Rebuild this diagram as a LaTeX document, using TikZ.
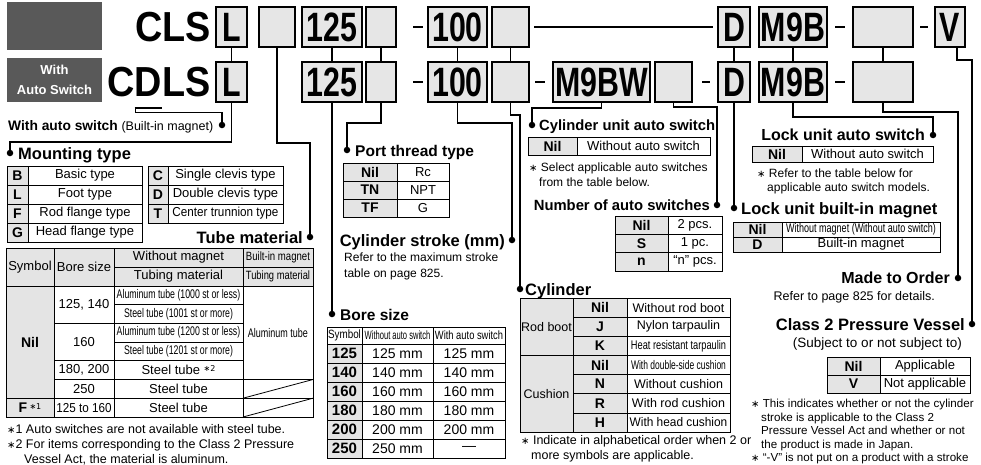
\documentclass[tikz,border=0pt]{standalone}
\usepackage{fontspec}
\usepackage{graphicx}
\setmainfont{Liberation Sans}
\newfontfamily\djv{DejaVu Sans}
\usetikzlibrary{calc}
\definecolor{tabgray}{HTML}{E4E4E4}
\definecolor{boxgray}{HTML}{E6E6E6}
\definecolor{hdgray}{HTML}{595959}
\newcommand\fs[1]{\fontsize{#1}{#1}\selectfont}
\newcommand\cnd[2]{\scalebox{#1}[1]{#2}}
\newcommand\astk{{\djv\fs{10}∗}}
\newcommand\supast[1]{\raisebox{3pt}{\djv\fs{8}∗#1}}
\newcommand\tcel[7][]{\node[tcell,#1,minimum width={(#5-#3)*1pt},minimum height={(#6-#4)*1pt}] (#2) at ({(#3+#5)/2},{(#4+#6)/2}) {#7};}
\newcommand\cbox[5]{\node[codebox,minimum width={(#3-#2)*1pt}] (#1) at ({(#2+#3)/2},#4) {#5};}
\begin{document}
\begin{tikzpicture}[x=1pt,y=-1pt,
  tcell/.style={draw, line width=0.8pt, inner sep=0pt, outer sep=0pt, font=\fs{13}, align=center},
  gc/.style={fill=tabgray},
  sym/.style={fill=tabgray, font=\fs{14}\bfseries},
  codebox/.style={draw, line width=1.6pt, fill=boxgray, inner sep=0pt, outer sep=0pt, minimum height=40pt, font=\fs{41}\bfseries},
  bigt/.style={inner sep=0pt, font=\fs{42}\bfseries},
  hdbox/.style={fill=hdgray, minimum width=95pt, inner sep=0pt},
  conn/.style={line width=1.4pt},
  dashbar/.style={line width=2.2pt},
  bdot/.style={fill, circle, inner sep=0pt, minimum size=6.5pt},
  head/.style={inner sep=0pt, font=\fs{16.5}\bfseries},
  note/.style={inner sep=0pt, font=\fs{12}},
  fnote/.style={inner sep=0pt, font=\fs{12.5}}
]
\useasboundingbox (0,0) rectangle (981,464);
\fill[white] (0,0) rectangle (981,464);

% header boxes
\node[hdbox, minimum height=48pt] (hdA) at (54.5,26) {};
\node[hdbox, minimum height=44pt, text=white, font=\fontsize{13}{20}\selectfont\bfseries, align=center] (hdB) at (54.5,80) {With\\Auto Switch};

% model codes
\node[bigt, anchor=base west] (tCLS) at (135,41.7) {\cnd{.9}{CLS}};
\node[bigt, anchor=base west] (tC) at (107,96.7) {\cnd{.9}{C}};
\node[bigt, anchor=base west] (tD) at (tC.base east) {\cnd{.9}{D}};
\node[bigt, anchor=base west] (tLS) at (tD.base east) {\cnd{.9}{LS}};

% row 1
\cbox{r1L}{216}{247}{27}{\cnd{.74}{L}}
\cbox{r1E}{259}{295}{27}{}
\cbox{r1B}{302}{362}{27}{\cnd{.74}{125}}
\cbox{r1P}{366}{396}{27}{}
\cbox{r1S}{428}{487}{27}{\cnd{.74}{100}}
\cbox{r1A}{492}{529}{27}{}
\cbox{r1D}{718}{750}{27}{\cnd{.74}{D}}
\cbox{r1M}{759}{827}{27}{\cnd{.74}{M9B}}
\cbox{r1X}{853}{913}{27}{}
\cbox{r1V}{935}{965}{27}{\cnd{.74}{V}}
\draw[dashbar] (413,27) -- (423,27);
\draw[dashbar] (835,27) -- (845,27);
\draw[dashbar] (920,27) -- (928,27);

% row 2
\cbox{r2L}{216}{247}{82}{\cnd{.74}{L}}
\cbox{r2B}{302}{362}{82}{\cnd{.74}{125}}
\cbox{r2P}{366}{396}{82}{}
\cbox{r2S}{428}{487}{82}{\cnd{.74}{100}}
\cbox{r2A}{492}{529}{82}{}
\cbox{r2W}{553}{650}{82}{\cnd{.74}{M9BW}}
\cbox{r2N}{655}{692}{82}{}
\cbox{r2D}{718}{750}{82}{\cnd{.74}{D}}
\cbox{r2M}{759}{827}{82}{\cnd{.74}{M9B}}
\cbox{r2X}{853}{913}{82}{}
\draw[dashbar] (413,82) -- (423,82);
\draw[dashbar] (535,82) -- (545,82);
\draw[dashbar] (702,82) -- (710,82);
\draw[dashbar] (835,82) -- (845,82);

% dots
\node[bdot] (dAS) at (222,125) {};
\node[bdot] (dMT) at (10,153) {};
\node[bdot] (dTM) at (310,237) {};
\node[bdot] (dBS) at (332,314) {};
\node[bdot] (dPT) at (347,150) {};
\node[bdot] (dCS) at (512,240) {};
\node[bdot] (dCY) at (520,289) {};
\node[bdot] (dCU) at (532,125) {};
\node[bdot] (dNA) at (717,205) {};
\node[bdot] (dLM) at (734,208) {};
\node[bdot] (dLA) at (933,135) {};
\node[bdot] (dMO) at (958,278) {};
\node[bdot] (dCV) at (972,324) {};

% connectors between rows
\draw[conn] (r1L) -- (r2L);
\draw[conn] (r1B) -- (r2B);
\draw[conn] (r1P) -- (r2P);
\draw[conn] (r1S) -- (r2S);
\draw[conn] (r1A) -- (r2A);
\draw[conn] (r1D) -- (r2D);
\draw[conn] (r1M) -- (r2M);
\draw[conn] (r1X) -- (r2X);
\draw[conn] ([xshift=5pt]r1A.east) -- ([xshift=-5pt]r1D.west);

% connectors to headings
\draw[conn] ([yshift=-11.3pt]tD.base west) -- ([yshift=-11.3pt]tD.base east);
\draw[conn] ([xshift=1pt,yshift=-11.3pt]tD.base west) -- ++(0,4.5) -| (dAS);
\draw[conn] (r2L.south) -- ++(0,40) -| (dMT);
\draw[conn] (r1E.south) -- ++(0,96) -| (dTM);
\draw[conn] (r2B) -- (dBS);
\draw[conn] (r2P.south) -- ++(0,21) -| (dPT);
\draw[conn] (r2S.south) -- ++(0,21) -| (dCS);
\draw[conn] (r2A.south) -- ++(0,13) -| (dCY);
\draw[conn] (r2W.south) -- ++(0,6) -| (dCU);
\draw[conn] (r2N.south) -- ++(0,5) -| (dNA);
\draw[conn] (r2D) -- (dLM);
\draw[conn] (r2M.south) -- ++(0,15) -| (dLA);
\draw[conn] (r2X.south) -- ++(0,10) -| (dMO);
\draw[conn] ([xshift=7pt]r1V.south) -- ++(0,13) -| (dCV);

% headings
\node[head, anchor=base west, font=\fs{13.8}\bfseries] (hAS) at (8,130) {With auto switch {\mdseries\fs{12.5}(Built-in magnet)}};
\node[head, anchor=base west] (hMT) at (18,159) {Mounting type};
\node[head, anchor=base east] (hTM) at (303,243) {Tube material};
\node[head, anchor=base west, font=\fs{15.5}\bfseries] (hPT) at (355,156) {Port thread type};
\node[head, anchor=base east] (hCS) at (505,246) {Cylinder stroke (mm)};
\node[head, anchor=base west, font=\fs{15.5}\bfseries] (hBS) at (340,320) {Bore size};
\node[head, anchor=base west, font=\fs{14.8}\bfseries] (hCU) at (539,130.5) {Cylinder unit auto switch};
\node[head, anchor=base east, font=\fs{14.8}\bfseries] (hNA) at (710,210.5) {Number of auto switches};
\node[head, anchor=base west] (hCY) at (525,295) {Cylinder};
\node[head, anchor=base east, font=\fs{16}\bfseries] (hLA) at (925,140.5) {Lock unit auto switch};
\node[head, anchor=base west] (hLM) at (741,214) {Lock unit built-in magnet};
\node[head, anchor=base east, font=\fs{16}\bfseries] (hMO) at (950,283.5) {Made to Order};
\node[head, anchor=base east] (hCV) at (965,330) {Class 2 Pressure Vessel};

% mounting type table
\tcel[sym]{mB}{7}{166}{28}{185}{B}
\tcel{mBt}{28}{166}{142}{185}{Basic type}
\tcel[sym]{mL}{7}{185}{28}{204}{L}
\tcel{mLt}{28}{185}{142}{204}{Foot type}
\tcel[sym]{mF}{7}{204}{28}{223}{F}
\tcel{mFt}{28}{204}{142}{223}{Rod flange type}
\tcel[sym]{mG}{7}{223}{28}{242}{G}
\tcel{mGt}{28}{223}{142}{242}{Head flange type}
\tcel[sym]{mC}{148}{166}{168}{185}{C}
\tcel{mCt}{168}{166}{283}{185}{Single clevis type}
\tcel[sym]{mD}{148}{185}{168}{204}{D}
\tcel{mDt}{168}{185}{283}{204}{Double clevis type}
\tcel[sym]{mT}{148}{204}{168}{223}{T}
\tcel{mTt}{168}{204}{283}{223}{\cnd{.9}{Center trunnion type}}

% tube material table
\tcel[gc]{tS}{6}{248}{54}{286}{Symbol}
\tcel[gc]{tB}{54}{248}{114}{286}{Bore size}
\tcel[gc]{tW}{114}{248}{243}{267}{Without magnet}
\tcel[gc]{tBi}{243}{248}{313}{267}{\cnd{.8}{\fs{12}Built-in magnet}}
\tcel[gc]{tTu}{114}{267}{243}{286}{Tubing material}
\tcel[gc]{tTu2}{243}{267}{313}{286}{\cnd{.78}{\fs{12}Tubing material}}
\tcel[sym]{tNil}{6}{286}{54}{398.2}{Nil}
\tcel[sym]{tF}{6}{398.2}{54}{417}{F\,{\mdseries\supast{1}}}
\tcel{tb1}{54}{286}{114}{323.4}{125, 140}
\tcel{tb2}{54}{323.4}{114}{360.8}{160}
\tcel{tb3}{54}{360.8}{114}{379.5}{180, 200}
\tcel{tb4}{54}{379.5}{114}{398.2}{250}
\tcel{tb5}{54}{398.2}{114}{417}{\cnd{.9}{125 to 160}}
\tcel{tm1}{114}{286}{243}{304.7}{\cnd{.7}{\fs{12.5}Aluminum tube (1000 st or less)}}
\tcel{tm2}{114}{304.7}{243}{323.4}{\cnd{.7}{\fs{12.5}Steel tube (1001 st or more)}}
\tcel{tm3}{114}{323.4}{243}{342.1}{\cnd{.7}{\fs{12.5}Aluminum tube (1200 st or less)}}
\tcel{tm4}{114}{342.1}{243}{360.8}{\cnd{.7}{\fs{12.5}Steel tube (1201 st or more)}}
\tcel{tm5}{114}{360.8}{243}{379.5}{Steel tube \supast{2}}
\tcel{tm6}{114}{379.5}{243}{398.2}{Steel tube}
\tcel{tm7}{114}{398.2}{243}{417}{Steel tube}
\tcel{tal}{243}{286}{313}{379.5}{\cnd{.72}{\fs{12.5}Aluminum tube}}
\tcel{tx1}{243}{379.5}{313}{398.2}{}
\tcel{tx2}{243}{398.2}{313}{417}{}
\draw[line width=0.8pt] (tx1.south west) -- (tx1.north east);
\draw[line width=0.8pt] (tx2.south west) -- (tx2.north east);

% tube notes
\node[fnote, anchor=base west] (fn1) at (7,433) {\astk1 Auto switches are not available with steel tube.};
\node[fnote, anchor=base west] (fn2) at (7,448) {\astk2 For items corresponding to the Class 2 Pressure};
\node[fnote, anchor=base west] (fn3) at (24,463) {Vessel Act, the material is aluminum.};

% port thread table
\tcel[sym]{pN}{343}{163}{397}{181}{Nil}
\tcel{pNt}{397}{163}{449}{181}{Rc}
\tcel[sym]{pTN}{343}{181}{397}{199}{TN}
\tcel{pTNt}{397}{181}{449}{199}{NPT}
\tcel[sym]{pTF}{343}{199}{397}{217}{TF}
\tcel{pTFt}{397}{199}{449}{217}{G}

% stroke note
\node[note, anchor=base west] (nS1) at (344,261) {Refer to the maximum stroke};
\node[note, anchor=base west] (nS2) at (344,277) {table on page 825.};

% bore size table
\tcel{bhS}{327}{327}{362}{344}{\cnd{.82}{\fs{12}Symbol}}
\tcel{bhW}{362}{327}{433}{344}{\cnd{.63}{\fs{12}Without auto switch}}
\tcel{bhA}{433}{327}{505}{344}{\cnd{.78}{\fs{12}With auto switch}}
\tcel[sym,font=\fs{15}\bfseries]{b1}{327}{344}{362}{363}{125}
\tcel[font=\fs{14}]{b1a}{362}{344}{433}{363}{125 mm}
\tcel[font=\fs{14}]{b1b}{433}{344}{505}{363}{125 mm}
\tcel[sym,font=\fs{15}\bfseries]{b2}{327}{363}{362}{382}{140}
\tcel[font=\fs{14}]{b2a}{362}{363}{433}{382}{140 mm}
\tcel[font=\fs{14}]{b2b}{433}{363}{505}{382}{140 mm}
\tcel[sym,font=\fs{15}\bfseries]{b3}{327}{382}{362}{401}{160}
\tcel[font=\fs{14}]{b3a}{362}{382}{433}{401}{160 mm}
\tcel[font=\fs{14}]{b3b}{433}{382}{505}{401}{160 mm}
\tcel[sym,font=\fs{15}\bfseries]{b4}{327}{401}{362}{420}{180}
\tcel[font=\fs{14}]{b4a}{362}{401}{433}{420}{180 mm}
\tcel[font=\fs{14}]{b4b}{433}{401}{505}{420}{180 mm}
\tcel[sym,font=\fs{15}\bfseries]{b5}{327}{420}{362}{439}{200}
\tcel[font=\fs{14}]{b5a}{362}{420}{433}{439}{200 mm}
\tcel[font=\fs{14}]{b5b}{433}{420}{505}{439}{200 mm}
\tcel[sym,font=\fs{15}\bfseries]{b6}{327}{439}{362}{458}{250}
\tcel[font=\fs{14}]{b6a}{362}{439}{433}{458}{250 mm}
\tcel[font=\fs{14}]{b6b}{433}{439}{505}{458}{—}

% cylinder unit auto switch
\tcel[sym]{cuN}{528}{137}{577}{155}{Nil}
\tcel{cuT}{577}{137}{710}{155}{Without auto switch}
\node[note, anchor=base west] (nC1) at (529,171) {\astk\ Select applicable auto switches};
\node[note, anchor=base west] (nC2) at (539,186) {from the table below.};

% number of auto switches
\tcel[sym]{nN}{615}{216}{668}{234.3}{Nil}
\tcel{nNt}{668}{216}{722}{234.3}{2 pcs.}
\tcel[sym]{nS}{615}{234.3}{668}{252.6}{S}
\tcel{nSt}{668}{234.3}{722}{252.6}{1 pc.}
\tcel[sym]{nn}{615}{252.6}{668}{271}{n}
\tcel{nnt}{668}{252.6}{722}{271}{“n” pcs.}

% cylinder table
\tcel[gc,font=\fs{12.5}]{cyR}{520}{298}{573}{355.4}{Rod boot}
\tcel[gc,font=\fs{12.5}]{cyC}{520}{355.4}{573}{432}{Cushion}
\tcel[sym]{cy1}{573}{298}{627}{317.1}{Nil}
\tcel[font=\fs{12.5}]{cy1t}{627}{298}{730}{317.1}{Without rod boot}
\tcel[sym]{cy2}{573}{317.1}{627}{336.3}{J}
\tcel[font=\fs{12.5}]{cy2t}{627}{317.1}{730}{336.3}{Nylon tarpaulin}
\tcel[sym]{cy3}{573}{336.3}{627}{355.4}{K}
\tcel[font=\fs{12.5}]{cy3t}{627}{336.3}{730}{355.4}{\cnd{.74}{Heat resistant tarpaulin}}
\tcel[sym]{cy4}{573}{355.4}{627}{374.6}{Nil}
\tcel[font=\fs{12.5}]{cy4t}{627}{355.4}{730}{374.6}{\cnd{.68}{With double-side cushion}}
\tcel[sym]{cy5}{573}{374.6}{627}{393.7}{N}
\tcel[font=\fs{12.5}]{cy5t}{627}{374.6}{730}{393.7}{Without cushion}
\tcel[sym]{cy6}{573}{393.7}{627}{412.9}{R}
\tcel[font=\fs{12.5}]{cy6t}{627}{393.7}{730}{412.9}{With rod cushion}
\tcel[sym]{cy7}{573}{412.9}{627}{432}{H}
\tcel[font=\fs{12.5}]{cy7t}{627}{412.9}{730}{432}{\cnd{.95}{With head cushion}}
\node[fnote, anchor=base west] (nY1) at (521,444) {\astk\ Indicate in alphabetical order when 2 or};
\node[fnote, anchor=base west] (nY2) at (531,459) {more symbols are applicable.};

% lock unit auto switch
\tcel[sym]{laN}{752}{146}{802}{162}{Nil}
\tcel{laT}{802}{146}{933}{162}{Without auto switch}
\node[note, anchor=base west] (nL1) at (757,177) {\astk\ Refer to the table below for};
\node[note, anchor=base west] (nL2) at (767,191) {applicable auto switch models.};

% lock unit built-in magnet
\tcel[sym]{lmN}{733}{222}{782}{237}{Nil}
\tcel{lmNt}{782}{222}{940}{237}{\cnd{.72}{\fs{12.5}Without magnet (Without auto switch)}}
\tcel[sym]{lmD}{733}{237}{782}{252}{D}
\tcel{lmDt}{782}{237}{940}{252}{Built-in magnet}

% made to order
\node[note, anchor=base east, font=\fs{12.5}] (nM) at (935,300) {Refer to page 825 for details.};

% class 2 pressure vessel
\node[note, anchor=base east, font=\fs{13.5}] (nV0) at (962,347) {(Subject to or not subject to)};
\tcel[sym]{cvN}{827}{357}{880}{375}{Nil}
\tcel{cvNt}{880}{357}{970}{375}{Applicable}
\tcel[sym]{cvV}{827}{375}{880}{393}{V}
\tcel{cvVt}{880}{375}{970}{393}{Not applicable}
\node[note, anchor=base west, font=\fs{11.6}] (nV1) at (751,407.5) {\astk\ This indicates whether or not the cylinder};
\node[note, anchor=base west, font=\fs{11.6}] (nV2) at (761,421) {stroke is applicable to the Class 2};
\node[note, anchor=base west, font=\fs{11.6}] (nV3) at (761,434.5) {Pressure Vessel Act and whether or not};
\node[note, anchor=base west, font=\fs{11.6}] (nV4) at (761,448) {the product is made in Japan.};
\node[note, anchor=base west, font=\fs{11.6}] (nV5) at (751,461.5) {\astk\ “-V” is not put on a product with a stroke};
\end{tikzpicture}
\end{document}
